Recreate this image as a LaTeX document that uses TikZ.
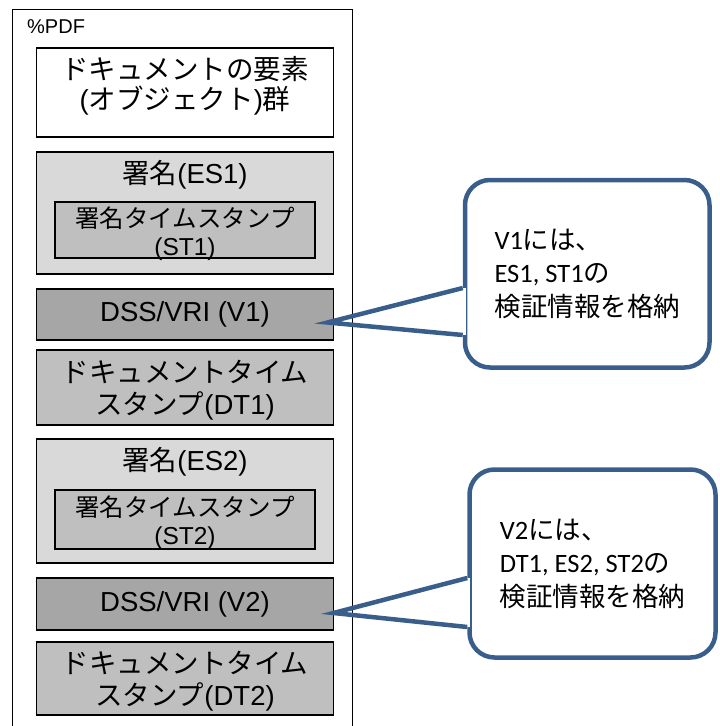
\documentclass[tikz,border=0pt]{standalone}
\usepackage{fontspec}
\setmainfont{Liberation Sans}
\newfontfamily\jpfont{Noto Sans CJK JP}
\newfontfamily\notefont{Carlito}
\usetikzlibrary{
  positioning,
}
\tikzstyle{part} = [
  draw,
  rectangle,
  line width=1.5pt,
  minimum width=297pt,
  inner sep=0pt,
  outer sep=0pt,
  align=center,
  font=\fontsize{27.5}{32}\selectfont,
]
\tikzstyle{stamp} = [
  part,
  minimum width=260pt,
  minimum height=56pt,
  fill=stampgray,
]
\tikzstyle{parttext} = [
  inner sep=0pt,
  align=center,
  font=\fontsize{27.5}{32}\selectfont,
]
\tikzstyle{stamptext} = [
  parttext,
  font=\fontsize{24.5}{28}\selectfont,
]
\tikzstyle{note} = [
  draw=noteblue,
  line width=4.5pt,
  rounded corners=25pt,
  inner sep=0pt,
  align=left,
  font=\notefont\fontsize{26.5}{33.5}\selectfont,
]
\tikzstyle{pointer} = [
  noteblue,
  line width=4.5pt,
]
\definecolor{sheetgray}{RGB}{217, 217, 217}
\definecolor{stampgray}{RGB}{191, 191, 191}
\definecolor{vrigray}{RGB}{166, 166, 166}
\definecolor{noteblue}{RGB}{58, 94, 140}

\begin{document}
\begin{tikzpicture}[x=1pt, y=1pt]
      \useasboundingbox (0,0) rectangle (720,-726);
      \node[draw,rectangle,line width=1.3pt,minimum width=340pt,minimum height=740pt,anchor=north west] (pdf) at (12,-9) {};
      \node[anchor=base west,inner sep=0pt,font=\fontsize{20}{24}\selectfont] (magic) at (27,-33) {\%PDF};

      \node[part,minimum height=89pt] (elems) at (185,-92.5) {};
      \node[parttext,font=\fontsize{27.5}{30}\selectfont] (elemstext) at ([yshift=7pt]elems.center) {{\jpfont ドキュメントの要素}\\({\jpfont オブジェクト}){\jpfont 群}};

      \node[part,minimum height=122pt,fill=sheetgray] (es1) [below=15pt of elems] {};
      \node[parttext] (es1title) at ([yshift=-23pt]es1.north) {{\jpfont 署名}(ES1)};
      \node[stamp] (st1) at ([yshift=-17pt]es1.center) {};
      \node[stamptext] (st1text) at ([yshift=-4pt]st1.center) {{\jpfont 署名タイムスタンプ}\\(ST1)};
      \node[part,minimum height=51pt,fill=vrigray] (v1) [below=15pt of es1] {DSS/VRI (V1)};
      \node[part,minimum height=75pt,fill=stampgray] (dt1) [below=10pt of v1] {};
      \node[parttext] (dt1text) at ([yshift=-3pt]dt1.center) {{\jpfont ドキュメントタイム}\\{\jpfont スタンプ}(DT1)};

      \node[part,minimum height=124pt,fill=sheetgray] (es2) [below=14pt of dt1] {};
      \node[parttext] (es2title) at ([yshift=-23pt]es2.north) {{\jpfont 署名}(ES2)};
      \node[stamp,minimum height=59pt] (st2) at ([yshift=-18.5pt]es2.center) {};
      \node[stamptext] (st2text) at ([yshift=-3pt]st2.center) {{\jpfont 署名タイムスタンプ}\\(ST2)};
      \node[part,minimum height=52pt,fill=vrigray] (v2) [below=15pt of es2] {DSS/VRI (V2)};
      \node[part,minimum height=73pt,fill=stampgray] (dt2) [below=12pt of v2] {};
      \node[parttext] (dt2text) at ([yshift=-3pt]dt2.center) {{\jpfont ドキュメントタイム}\\{\jpfont スタンプ}(DT2)};

      % callout for V1
      \node[note,minimum width=244.5pt,minimum height=187.5pt] (note1) at (587.25,-273.75) {V1{\jpfont には、}\\ES1, ST1{\jpfont の}\\{\jpfont 検証情報を格納}};
      \coordinate (tip1) at ([xshift=-6pt,yshift=-8pt]v1.east);
      \coordinate (base1a) at ([yshift=-14.25pt]note1.west);
      \coordinate (base1b) at ([yshift=-61.25pt]note1.west);
      \fill[white] ([xshift=-3pt]base1a) rectangle ([xshift=3pt]base1b);
      \draw[pointer] (base1a) -- (tip1) -- (base1b);

      % callout for V2
      \node[note,minimum width=246pt,minimum height=188pt] (note2) at (592.5,-563.5) {V2{\jpfont には、}\\DT1, ES2, ST2{\jpfont の}\\{\jpfont 検証情報を格納}};
      \coordinate (tip2) at ([yshift=-9pt]v2.east);
      \coordinate (base2a) at ([yshift=-14.5pt]note2.west);
      \coordinate (base2b) at ([yshift=-63.5pt]note2.west);
      \fill[white] ([xshift=-3pt]base2a) rectangle ([xshift=3pt]base2b);
      \draw[pointer] (base2a) -- (tip2) -- (base2b);
    \end{tikzpicture}
\end{document}
